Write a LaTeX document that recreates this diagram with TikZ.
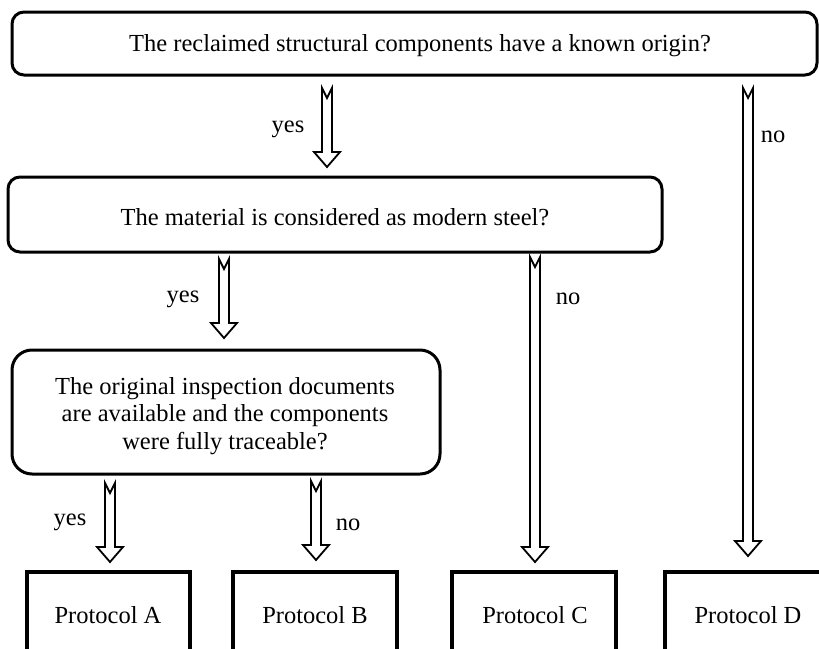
\documentclass[tikz,border=0pt]{standalone}
\usepackage{fontspec}
\setmainfont{Liberation Serif}
\usetikzlibrary{calc}
\tikzset{
  qbox/.style={draw, line width=3pt, rounded corners=12pt},
  pbox/.style={draw, line width=3.5pt},
  txt/.style={font=\fontsize{24.5}{27.5}\selectfont, align=center},
  lbl/.style={font=\fontsize{24.5}{27}\selectfont},
  harrow/.style={draw, line width=1.8pt, line join=miter, fill=white},
}
\newcommand{\hollowarr}[2]{%
  \path[harrow] let \p1=(#1), \p2=(#2) in
    (\x1-5pt,\y1) -- (\x1,\y1-10pt) -- (\x1+5pt,\y1) -- (\x1+5pt,\y2+15pt)
    -- (\x1+13pt,\y2+15pt) -- (\x1,\y2) -- (\x1-13pt,\y2+15pt) -- (\x1-5pt,\y2+15pt) -- cycle;}
\begin{document}
\begin{tikzpicture}[x=1pt,y=-1pt]
\useasboundingbox (0,0) rectangle (819,648);
\clip (0,0) rectangle (819,648);
% question boxes
\draw[qbox] (12,12) rectangle (817,75);
\node[txt] (q1) at (420,46) {The reclaimed structural components have a known origin?};
\draw[qbox] (8,177) rectangle (662,252);
\node[txt] (q2) at (335,217) {The material is considered as modern steel?};
\draw[qbox, rounded corners=20pt] (12,350) rectangle (440,474);
\node[txt] (q3) at (225,416) {The original inspection documents\\are available and the components\\were fully traceable?};
% protocol boxes
\draw[pbox] (27,572) rectangle (190,670);
\node[txt] (pa) at (108,615) {Protocol A};
\draw[pbox] (233,572) rectangle (397,670);
\node[txt] (pb) at (315,615) {Protocol B};
\draw[pbox] (452,572) rectangle (616,670);
\node[txt] (pc) at (535,615) {Protocol C};
\draw[pbox] (665,572) rectangle (835,670);
\node[txt] (pd) at (748,615) {Protocol D};
% arrow endpoints
\coordinate (a1s) at (327,88);  \coordinate (a1e) at (327,167);
\coordinate (a2s) at (748,88);  \coordinate (a2e) at (748,556);
\coordinate (a3s) at (224,259); \coordinate (a3e) at (224,338);
\coordinate (a4s) at (535,257); \coordinate (a4e) at (535,562);
\coordinate (a5s) at (110,483); \coordinate (a5e) at (110,562);
\coordinate (a6s) at (316,481); \coordinate (a6e) at (316,560);
\hollowarr{a1s}{a1e}
\hollowarr{a2s}{a2e}
\hollowarr{a3s}{a3e}
\hollowarr{a4s}{a4e}
\hollowarr{a5s}{a5e}
\hollowarr{a6s}{a6e}
% labels
\node[lbl] (l1) at (288,129) {yes};
\node[lbl] (l2) at (773,137) {no};
\node[lbl] (l3) at (183,299) {yes};
\node[lbl] (l4) at (568,299) {no};
\node[lbl] (l5) at (70,522) {yes};
\node[lbl] (l6) at (348,525) {no};
\end{tikzpicture}
\end{document}
